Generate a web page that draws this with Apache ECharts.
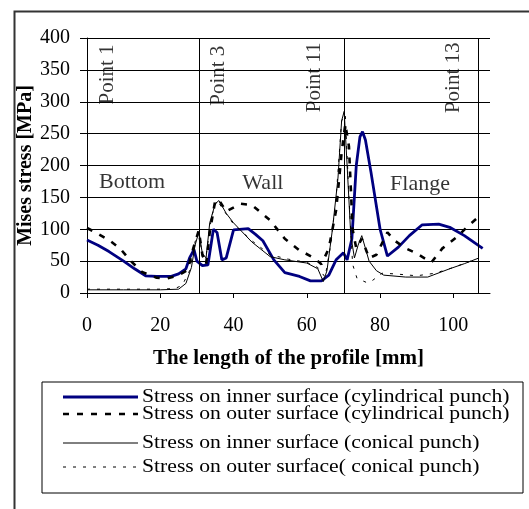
<!DOCTYPE html>
<html>
<head>
<meta charset="utf-8">
<script src="https://cdn.jsdelivr.net/npm/echarts@6/dist/echarts.min.js"></script>
<style>
html,body{margin:0;padding:0;background:#fff;}
#chart{width:529px;height:509px;}
</style>
</head>
<body>
<div id="chart"></div>
<script>
// ---- data ----
var seriesNames = [
  'Stress on inner surface (cylindrical punch)',
  'Stress on outer surface (cylindrical punch)',
  'Stress on inner surface (conical punch)',
  'Stress on outer surface( conical punch)'
];
var cylInner = [[0,83],[3,75],[6,65],[10,50],[13,38],[16,27],[19,26],[23,26],[25,30],[27,38],[28,55],[29.2,68],[30,50],[31.5,43],[33,44],[34.5,100],[35.5,95],[36.8,52],[38,55],[40,99],[44,101],[46,92],[48,82],[51,52],[54,32],[58,26],[61,19],[64,19],[66,28],[68,52],[70,63],[71,52],[72.3,85],[73.5,200],[74.5,245],[75.2,253],[76,240],[77.5,190],[80,100],[82,58],[85,72],[88,90],[91.5,107],[96,108],[99,103],[103,90],[108,70]];
var cylOuter = [[0,102],[2,96],[6,83],[9,70],[12,50],[15,33],[19,24],[22,23],[25,28],[27.5,36],[29,70],[30.5,98],[31.5,60],[32.5,45],[33.5,95],[35,145],[36,146],[38,128],[42,140],[45,138],[50,114],[54,85],[58,67],[62,55],[64,45],[66,70],[68,130],[69.5,220],[70.5,265],[71.5,230],[72.5,100],[73.5,70],[75,85],[77,55],[79,60],[82,95],[84,82],[87,70],[90,62],[94,48],[97,70],[101,88],[104,105],[107,120]];
var conInner = [[0,5],[10,5],[20,5],[25,6],[27,15],[28.5,40],[29.5,75],[30.5,95],[31.5,62],[32.5,55],[33.5,110],[35,140],[36,145],[38,125],[40,110],[45,80],[50,57],[54,52],[60,47],[63,38],[64.5,18],[65.5,35],[67,100],[68.5,180],[69.5,270],[70.2,285],[71,200],[72,90],[73,55],[74,75],[75,90],[76,70],[77,50],[79,35],[81,28],[87,25],[93,25],[99,38],[103,46],[107,55]];
var conOuter = [[0,6],[10,6],[20,6],[24,7],[26,12],[28,35],[29.5,80],[30.5,100],[31.5,55],[32.5,58],[34,120],[35.5,146],[37,132],[40,108],[45,82],[50,60],[55,53],[60,48],[63,40],[65,25],[66.5,75],[68,150],[69.5,270],[70.5,280],[71.5,150],[72.5,45],[73.7,23],[76.5,16],[78,20],[80.5,31],[84,30],[90,27],[95,31],[100,40],[107,55]];
var pointLines = [30.6, 70.1, 106.7];
var pointLabels = [['Point 1', 5.5, 390], ['Point 3', 36, 388], ['Point 11', 62, 393], ['Point 13', 99.9, 393]];
var regionLabels = [['Bottom', 12.3, 174], ['Wall', 48, 172.5], ['Flange', 90.9, 171]];
var xTicks = [0, 20, 40, 60, 80, 100];
var yTicks = [0, 50, 100, 150, 200, 250, 300, 350, 400];

var serif = '"Liberation Serif", "DejaVu Serif", serif';
var colors = ['#000080', '#000', '#000', '#000'];
var widths = [2.8, 2.6, 1, 1];
var dashes = [null, [6, 8], null, [3, 7]];
var datasets = [cylInner, cylOuter, conInner, conOuter];

var chart = echarts.init(document.getElementById('chart'), null, {renderer: 'canvas'});

var lineSeriesList = datasets.map(function (d, i) {
  return {
    name: seriesNames[i], type: 'line', data: d, symbol: 'none', smooth: false,
    lineStyle: {color: colors[i], width: widths[i], type: dashes[i] || 'solid'},
    itemStyle: {color: colors[i]}, z: 3
  };
});

// legend drawn as graphic elements (rows)
var legendRowsY = [397, 414, 443, 467];
var legendGraphics = [{
  type: 'rect', shape: {x: 42, y: 382, width: 481, height: 111},
  style: {fill: '#fff', stroke: '#000', lineWidth: 1}, silent: true, z: 10
}];
seriesNames.forEach(function (n, i) {
  legendGraphics.push({
    type: 'line', shape: {x1: 63, y1: legendRowsY[i], x2: 138, y2: legendRowsY[i]},
    style: {stroke: colors[i], lineWidth: widths[i], lineDash: dashes[i] || null}, silent: true, z: 11
  });
  legendGraphics.push({
    type: 'text', x: 142, y: legendRowsY[i], scaleX: 1.14, scaleY: 1,
    style: {text: n, fill: '#000', font: '19px ' + serif, verticalAlign: 'middle'},
    silent: true, z: 11
  });
});

var option = {
  animation: false,
  backgroundColor: '#fff',
  grid: {left: 87, right: 39, top: 38, bottom: 216, containLabel: false},
  xAxis: {
    type: 'value', min: 0, max: 110, interval: 20,
    axisLine: {show: true, onZero: false, lineStyle: {color: '#000', width: 1}},
    axisTick: {show: true, inside: false, length: 5, lineStyle: {color: '#000'}, customValues: xTicks},
    axisLabel: {color: '#000', fontFamily: serif, fontSize: 20, margin: 23, customValues: xTicks},
    splitLine: {show: false},
    name: 'The length of the profile [mm]', nameLocation: 'middle', nameGap: 55, nameMoveOverlap: false,
    nameTextStyle: {color: '#000', fontFamily: serif, fontSize: 21, fontWeight: 'bold'}
  },
  yAxis: {
    type: 'value', min: 0, max: 400, interval: 50,
    axisLine: {show: true, lineStyle: {color: '#000', width: 1}},
    axisTick: {show: true, length: 7, lineStyle: {color: '#000'}},
    axisLabel: {color: '#000', fontFamily: serif, fontSize: 20, margin: 17},
    splitLine: {show: true, lineStyle: {color: '#000', width: 1}},
    name: 'Mises stress [MPa]', nameLocation: 'middle', nameGap: 51, nameMoveOverlap: false,
    nameTextStyle: {color: '#000', fontFamily: serif, fontSize: 20, fontWeight: 'bold'}
  },
  graphic: [{
    type: 'rect', left: 12, top: 9, silent: true, z: -10,
    shape: {width: 540, height: 520},
    style: {fill: 'none', stroke: '#333', lineWidth: 2}
  }].concat(legendGraphics),
  series: lineSeriesList.concat([
    {
      type: 'line', data: [], silent: true,
      markLine: {
        silent: true, symbol: 'none', label: {show: false},
        lineStyle: {color: '#000', width: 1, type: 'solid'},
        data: pointLines.map(function (v) { return {xAxis: v}; })
      }
    },
    {
      type: 'scatter', symbolSize: 0, silent: true,
      data: pointLabels.map(function (p) { return {value: [p[1], p[2]], name: p[0]}; }),
      label: {show: true, formatter: '{b}', rotate: 90, position: 'inside', align: 'right', verticalAlign: 'middle',
        color: '#000', fontFamily: serif, fontSize: 21}
    },
    {
      type: 'scatter', symbolSize: 0, silent: true,
      data: regionLabels.map(function (p) { return {value: [p[1], p[2]], name: p[0]}; }),
      label: {show: true, formatter: '{b}', position: 'inside',
        color: '#000', fontFamily: serif, fontSize: 22}
    }
  ])
};
chart.setOption(option);
</script>
</body>
</html>
